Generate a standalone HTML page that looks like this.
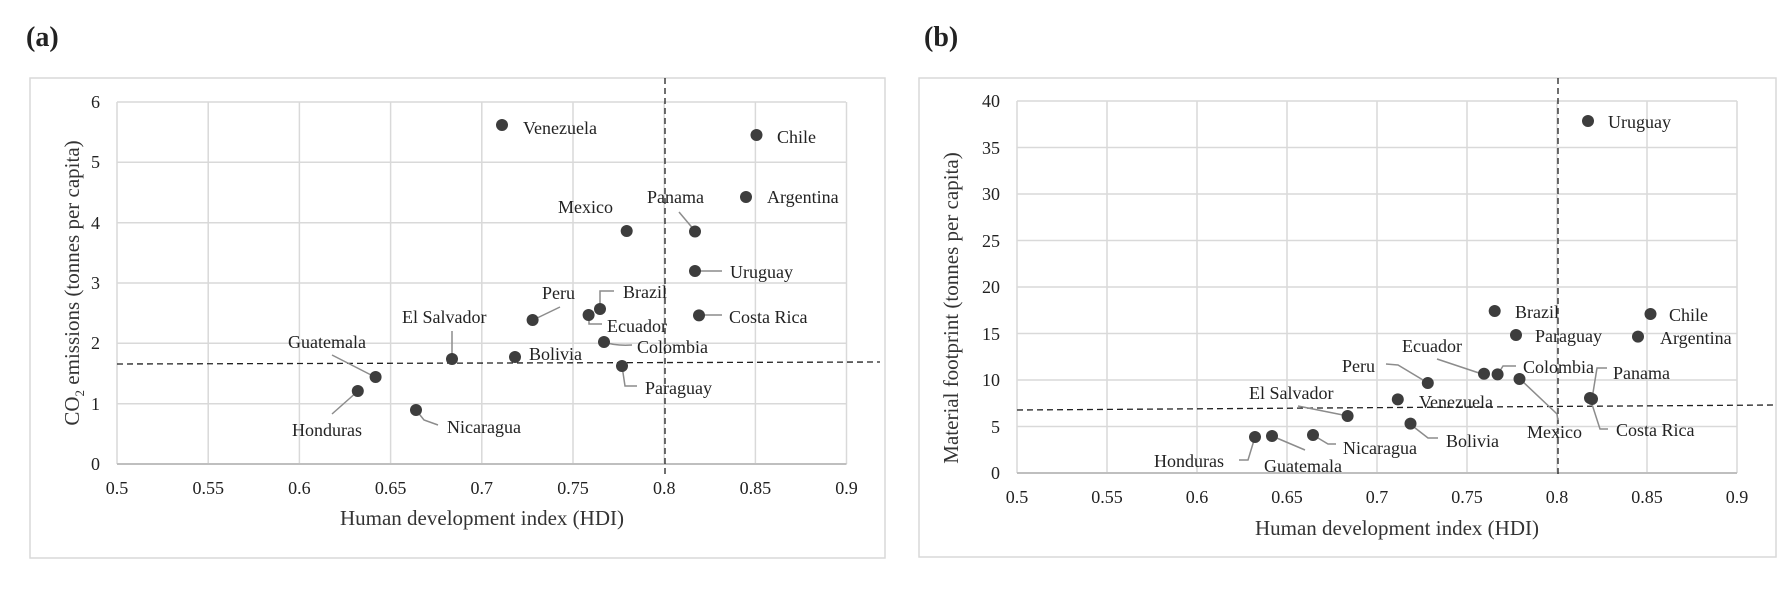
<!DOCTYPE html>
<html><head><meta charset="utf-8"><style>
body{margin:0;background:#fff}
svg{display:block}
text{font-family:"Liberation Serif",serif;fill:#222}
.l{font-size:18px}
.t{font-size:18px;fill:#444}
.g{stroke:#d9d9d9;stroke-width:1.5}
.p{fill:#3d3d3d}
.ld{stroke:#8c8c8c;stroke-width:1.5;fill:none}
.d{stroke:#222;stroke-width:1.3;stroke-dasharray:6,4;fill:none}
</style></head><body>
<svg width="1790" height="590" viewBox="0 0 1790 590" xmlns="http://www.w3.org/2000/svg">
<!-- Panel a -->
<text x="26" y="46" style="font-size:28px;font-weight:bold">(a)</text>
<rect x="30" y="78" width="855" height="480" fill="none" stroke="#d9d9d9" stroke-width="1.5"/>
<g class="g">
<line x1="117" y1="102" x2="846" y2="102"/><line x1="117" y1="162.3" x2="846" y2="162.3"/><line x1="117" y1="222.7" x2="846" y2="222.7"/><line x1="117" y1="283" x2="846" y2="283"/><line x1="117" y1="343.3" x2="846" y2="343.3"/><line x1="117" y1="403.7" x2="846" y2="403.7"/>
<line x1="117" y1="102" x2="117" y2="464"/><line x1="208.2" y1="102" x2="208.2" y2="464"/><line x1="299.4" y1="102" x2="299.4" y2="464"/><line x1="390.6" y1="102" x2="390.6" y2="464"/><line x1="481.8" y1="102" x2="481.8" y2="464"/><line x1="573" y1="102" x2="573" y2="464"/><line x1="664.2" y1="102" x2="664.2" y2="464"/><line x1="755.4" y1="102" x2="755.4" y2="464"/><line x1="846.5" y1="102" x2="846.5" y2="464"/>
</g>
<line x1="117" y1="464" x2="846.5" y2="464" stroke="#bfbfbf" stroke-width="2"/>
<g class="t" text-anchor="end">
<text x="100" y="108">6</text><text x="100" y="168">5</text><text x="100" y="229">4</text><text x="100" y="289">3</text><text x="100" y="349">2</text><text x="100" y="410">1</text><text x="100" y="470">0</text>
</g>
<g class="t" text-anchor="middle">
<text x="117" y="494">0.5</text><text x="208.2" y="494">0.55</text><text x="299.4" y="494">0.6</text><text x="390.6" y="494">0.65</text><text x="481.8" y="494">0.7</text><text x="573" y="494">0.75</text><text x="664.2" y="494">0.8</text><text x="755.4" y="494">0.85</text><text x="846.5" y="494">0.9</text>
</g>
<text x="482" y="525" text-anchor="middle" style="font-size:21px;fill:#333">Human development index (HDI)</text>
<text transform="translate(79,283) rotate(-90)" text-anchor="middle" style="font-size:21px;fill:#333">CO<tspan style="font-size:13px" dy="5">2</tspan><tspan dy="-5"> emissions (tonnes per capita)</tspan></text>
<line class="d" x1="665" y1="78" x2="665" y2="477"/>
<line class="d" x1="117" y1="364" x2="880" y2="362"/>
<g>
<path class="ld" d="M679 212 L695 231"/>
<path class="ld" d="M695 271 L722 271"/>
<path class="ld" d="M600 309 L600 291 L614 291"/>
<path class="ld" d="M560 307 L533 320"/>
<path class="ld" d="M589 315 L589 324 L602 324"/>
<path class="ld" d="M699 315 L722 315"/>
<path class="ld" d="M604 342 Q615 346 632 345"/>
<path class="ld" d="M452 331 L452 359"/>
<path class="ld" d="M622 366 L625 386 L637 386"/>
<path class="ld" d="M332 355 L375 377"/>
<path class="ld" d="M332 414 L358 391"/>
<path class="ld" d="M416 410 L424 420 L438 425"/>
</g>
<g class="p">
<circle cx="502" cy="125" r="6"/><circle cx="756.5" cy="135" r="6"/><circle cx="746" cy="197" r="6"/><circle cx="626.7" cy="231" r="6"/><circle cx="695" cy="231.5" r="6"/><circle cx="695" cy="271" r="6"/><circle cx="600" cy="309" r="6"/><circle cx="588.6" cy="315" r="6"/><circle cx="532.6" cy="320" r="6"/><circle cx="699" cy="315.4" r="6"/><circle cx="604" cy="342" r="6"/><circle cx="452" cy="359" r="6"/><circle cx="515" cy="357" r="6"/><circle cx="622" cy="366" r="6"/><circle cx="375.6" cy="377" r="6"/><circle cx="357.8" cy="391" r="6"/><circle cx="416" cy="410" r="6"/>
</g>
<g class="l">
<text x="523" y="134">Venezuela</text><text x="777" y="143">Chile</text><text x="767" y="203">Argentina</text><text x="558" y="213">Mexico</text><text x="647" y="203">Panama</text><text x="730" y="278">Uruguay</text><text x="623" y="298">Brazil</text><text x="542" y="299">Peru</text><text x="607" y="332">Ecuador</text><text x="729" y="323">Costa Rica</text><text x="637" y="353">Colombia</text><text x="402" y="323">El Salvador</text><text x="529" y="360">Bolivia</text><text x="645" y="394">Paraguay</text><text x="288" y="348">Guatemala</text><text x="292" y="436">Honduras</text><text x="447" y="433">Nicaragua</text>
</g>

<!-- Panel b -->
<text x="924" y="46" style="font-size:28px;font-weight:bold">(b)</text>
<rect x="919" y="78" width="857" height="479" fill="none" stroke="#d9d9d9" stroke-width="1.5"/>
<g class="g">
<line x1="1017" y1="101" x2="1737" y2="101"/><line x1="1017" y1="147.5" x2="1737" y2="147.5"/><line x1="1017" y1="194" x2="1737" y2="194"/><line x1="1017" y1="240.5" x2="1737" y2="240.5"/><line x1="1017" y1="287" x2="1737" y2="287"/><line x1="1017" y1="333.5" x2="1737" y2="333.5"/><line x1="1017" y1="380" x2="1737" y2="380"/><line x1="1017" y1="426.5" x2="1737" y2="426.5"/>
<line x1="1017" y1="101" x2="1017" y2="473"/><line x1="1107" y1="101" x2="1107" y2="473"/><line x1="1197" y1="101" x2="1197" y2="473"/><line x1="1287" y1="101" x2="1287" y2="473"/><line x1="1377" y1="101" x2="1377" y2="473"/><line x1="1467" y1="101" x2="1467" y2="473"/><line x1="1557" y1="101" x2="1557" y2="473"/><line x1="1647" y1="101" x2="1647" y2="473"/><line x1="1737" y1="101" x2="1737" y2="473"/>
</g>
<line x1="1017" y1="473" x2="1737" y2="473" stroke="#bfbfbf" stroke-width="2"/>
<g class="t" text-anchor="end">
<text x="1000" y="107">40</text><text x="1000" y="154">35</text><text x="1000" y="200">30</text><text x="1000" y="247">25</text><text x="1000" y="293">20</text><text x="1000" y="340">15</text><text x="1000" y="386">10</text><text x="1000" y="433">5</text><text x="1000" y="479">0</text>
</g>
<g class="t" text-anchor="middle">
<text x="1017" y="503">0.5</text><text x="1107" y="503">0.55</text><text x="1197" y="503">0.6</text><text x="1287" y="503">0.65</text><text x="1377" y="503">0.7</text><text x="1467" y="503">0.75</text><text x="1557" y="503">0.8</text><text x="1647" y="503">0.85</text><text x="1737" y="503">0.9</text>
</g>
<text x="1397" y="535" text-anchor="middle" style="font-size:21px;fill:#333">Human development index (HDI)</text>
<text transform="translate(958,308) rotate(-90)" text-anchor="middle" style="font-size:21px;fill:#333">Material footprint (tonnes per capita)</text>
<line class="d" x1="1558" y1="78" x2="1558" y2="475"/>
<line class="d" x1="1017" y1="410" x2="1776" y2="405"/>
<g>
<path class="ld" d="M1437 359 L1479 373"/>
<path class="ld" d="M1498 374 L1503 366 L1516 366"/>
<path class="ld" d="M1592 399 L1597 368 L1607 368"/>
<path class="ld" d="M1386 364 L1398 365 L1428 383"/>
<path class="ld" d="M1520 379 L1557 414 L1558 420"/>
<path class="ld" d="M1590 398 L1600 429 L1608 429"/>
<path class="ld" d="M1298 406 L1348 416"/>
<path class="ld" d="M1410 424 L1428 438 L1438 438"/>
<path class="ld" d="M1313 435 L1328 444 L1336 444"/>
<path class="ld" d="M1272 436 L1305 450"/>
<path class="ld" d="M1255 437 L1248 460 L1239 460"/>
</g>
<g class="p">
<circle cx="1588" cy="121" r="6"/><circle cx="1494.7" cy="311" r="6"/><circle cx="1650.5" cy="314" r="6"/><circle cx="1516" cy="335" r="6"/><circle cx="1638" cy="336.6" r="6"/><circle cx="1484" cy="373.7" r="6"/><circle cx="1497.6" cy="374.4" r="6"/><circle cx="1519.5" cy="379" r="6"/><circle cx="1427.8" cy="383" r="6"/><circle cx="1397.8" cy="399.4" r="6"/><circle cx="1590" cy="398" r="6"/><circle cx="1592" cy="399" r="6"/><circle cx="1347.6" cy="416" r="6"/><circle cx="1410.5" cy="423.6" r="6"/><circle cx="1313" cy="435" r="6"/><circle cx="1272" cy="436" r="6"/><circle cx="1255" cy="437" r="6"/>
</g>
<g class="l">
<text x="1608" y="128">Uruguay</text><text x="1515" y="318">Brazil</text><text x="1669" y="321">Chile</text><text x="1535" y="342">Paraguay</text><text x="1660" y="344">Argentina</text><text x="1402" y="352">Ecuador</text><text x="1523" y="373">Colombia</text><text x="1613" y="379">Panama</text><text x="1342" y="372">Peru</text><text x="1527" y="438">Mexico</text><text x="1616" y="436">Costa Rica</text><text x="1249" y="399">El Salvador</text><text x="1419" y="408">Venezuela</text><text x="1446" y="447">Bolivia</text><text x="1343" y="454">Nicaragua</text><text x="1264" y="472">Guatemala</text><text x="1154" y="467">Honduras</text>
</g>
</svg>
</body></html>
